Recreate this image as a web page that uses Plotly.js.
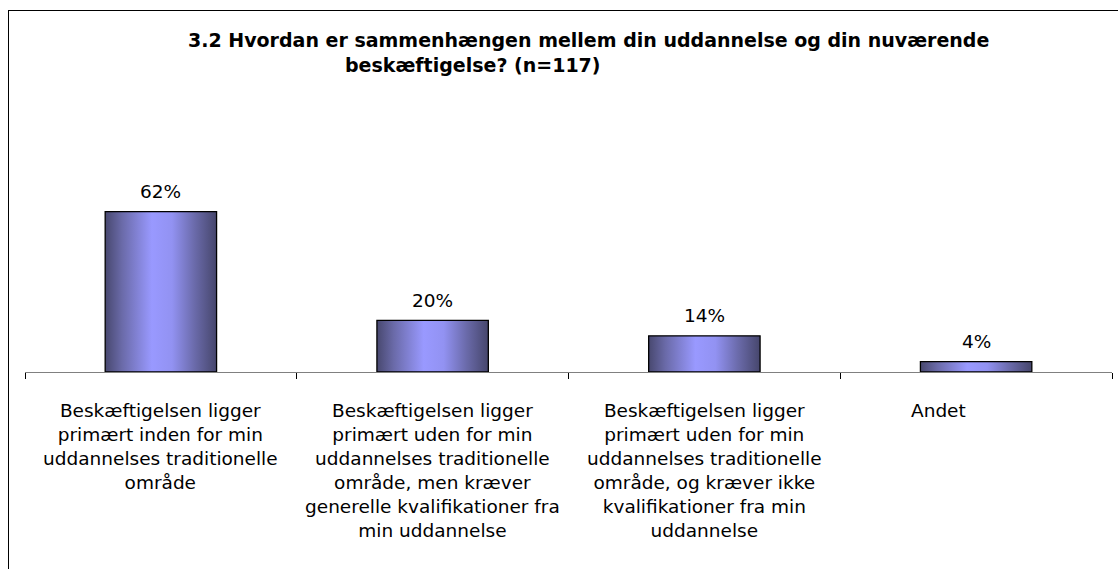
<!DOCTYPE html>
<html>
<head>
<meta charset="utf-8">
<script src="https://cdn.plot.ly/plotly-3.0.1.min.js"></script>
<style>
  html, body { margin: 0; padding: 0; background: #fff; }
  #chart { width: 1118px; height: 569px; }
</style>
</head>
<body>
<div id="chart"></div>
<script>
const categories = [
  "Beskæftigelsen ligger<br>primært inden for min<br>uddannelses traditionelle<br>område",
  "Beskæftigelsen ligger<br>primært uden for min<br>uddannelses traditionelle<br>område, men kræver<br>generelle kvalifikationer fra<br>min uddannelse",
  "Beskæftigelsen ligger<br>primært uden for min<br>uddannelses traditionelle<br>område, og kræver ikke<br>kvalifikationer fra min<br>uddannelse",
  "Andet"
];
const values = [62, 20, 14, 4];
const valueLabels = ["62%", "20%", "14%", "4%"];
const titleLine1 = "3.2 Hvordan er sammenhængen mellem din uddannelse og din nuværende";
const titleLine2 = "beskæftigelse? (n=117)";

const FONT = "DejaVu Sans, Verdana, sans-serif";
const L = 25, R = 6, T = 191, B = 197;
const W = 1118, H = 569;
const plotW = W - L - R, plotH = H - T - B;
const px2paperX = p => (p - L) / plotW;
const px2paperY = p => (H - B - p) / plotH;

const trace = {
  type: "bar",
  x: categories,
  y: values,
  marker: { color: "#8a8ae6", line: { color: "#000000", width: 1.3 } },
  hoverinfo: "none"
};

const annotations = [];
values.forEach((v, i) => {
  annotations.push({
    x: categories[i], y: v, xref: "x", yref: "y",
    text: valueLabels[i], showarrow: false,
    yanchor: "middle", yshift: 20,
    font: { family: FONT, size: 18.5, color: "#000" }
  });
  annotations.push({
    x: categories[i], y: 0, xref: "x", yref: "y",
    text: categories[i], showarrow: false,
    yanchor: "top", yshift: -26, align: "center",
    xshift: i === 3 ? -38 : 0,
    font: { family: FONT, size: 18.5, color: "#000" }
  });
});
annotations.push({
  x: px2paperX(343), y: px2paperY(65), xref: "paper", yref: "paper",
  xanchor: "left", yanchor: "middle", showarrow: false,
  text: "<b>" + titleLine2 + "</b>",
  font: { family: FONT, size: 19, color: "#000" }
});

const layout = {
  width: W, height: H,
  margin: { l: L, r: R, t: T, b: B, pad: 0 },
  paper_bgcolor: "#fff", plot_bgcolor: "#fff",
  showlegend: false,
  bargap: 0.59,
  title: {
    text: "<b>" + titleLine1 + "</b>",
    x: 188 / W, xanchor: "left", xref: "container",
    y: 1 - 40 / H, yanchor: "middle", yref: "container",
    font: { family: FONT, size: 19, color: "#000" }
  },
  xaxis: {
    type: "category",
    range: [-0.5, 3.5],
    showline: true, linecolor: "#808080", linewidth: 1,
    ticks: "outside", tickson: "boundaries", ticklen: 6, tickcolor: "#000", tickwidth: 1,
    showticklabels: false, showgrid: false, zeroline: false, fixedrange: true
  },
  yaxis: { visible: false, range: [0, plotH / ((372 - 211.7) / 62)], fixedrange: true },
  annotations: annotations,
  shapes: [
    { type: "line", xref: "paper", yref: "paper",
      x0: px2paperX(8), x1: px2paperX(1125), y0: px2paperY(10.5), y1: px2paperY(10.5),
      line: { color: "#000", width: 1 } },
    { type: "line", xref: "paper", yref: "paper",
      x0: px2paperX(8.5), x1: px2paperX(8.5), y0: px2paperY(10.5), y1: px2paperY(580),
      line: { color: "#000", width: 1 } }
  ]
};

Plotly.newPlot("chart", [trace], layout, { displayModeBar: false, staticPlot: true }).then(gd => {
  const svg = gd.querySelector("svg.main-svg");
  let defs = svg.querySelector("defs");
  const NS = "http://www.w3.org/2000/svg";
  if (!defs) { defs = document.createElementNS(NS, "defs"); svg.insertBefore(defs, svg.firstChild); }
  const grad = document.createElementNS(NS, "linearGradient");
  grad.setAttribute("id", "barGrad");
  grad.setAttribute("x1", "0"); grad.setAttribute("y1", "0");
  grad.setAttribute("x2", "1"); grad.setAttribute("y2", "0");
  const stops = [[0, "#48486f"], [0.15, "#6a6aa8"], [0.42, "#9999ff"], [0.6, "#9292f2"], [0.8, "#6b6bab"], [1, "#46466c"]];
  stops.forEach(([o, c]) => {
    const s = document.createElementNS(NS, "stop");
    s.setAttribute("offset", o);
    s.setAttribute("stop-color", c);
    grad.appendChild(s);
  });
  defs.appendChild(grad);
  gd.querySelectorAll(".trace.bars .point path").forEach(p => { p.style.fill = "url(#barGrad)"; });
});
</script>
</body>
</html>
